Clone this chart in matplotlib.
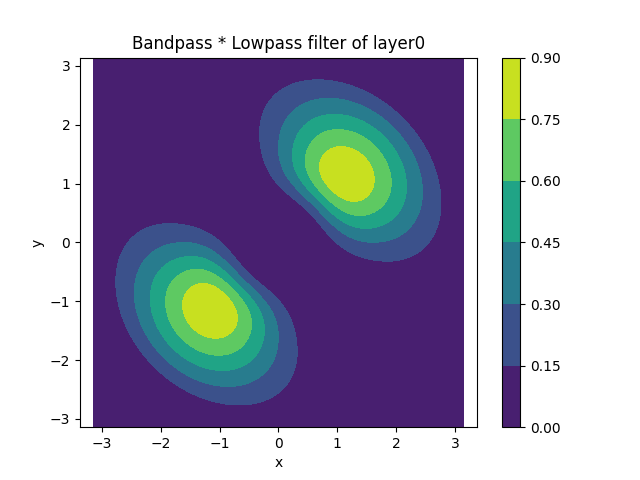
import numpy as np
import matplotlib
matplotlib.use('Agg')
import matplotlib.pyplot as plt

# 값은 그림에서 읽은 추정치
levels = [0.0, 0.15, 0.30, 0.45, 0.60, 0.75, 0.90]
blob_angle_deg = 45             # 덩어리 방향 (45도와 225도)
peak_value = 0.875              # 최대값
ring_radius = 1.6               # 띠통과 중심 반지름
sigma_inner = 0.42              # 안쪽 폭 (log 반지름)
sigma_outer = 0.83              # 바깥쪽 폭 (반지름)
angle_order = 3.1               # 방향 cos 차수
cutoff = 3.16                   # 저역통과 차단 반지름
cutoff_order = 18

n = 256
x = np.linspace(-np.pi, np.pi, n)
y = np.linspace(-np.pi, np.pi, n)
X, Y = np.meshgrid(x, y)
R = np.hypot(X, Y) + 1e-9
T = np.arctan2(Y, X)

# 띠통과
u = np.where(R < ring_radius,
             np.log(R / ring_radius) / sigma_inner,
             (R - ring_radius) / sigma_outer)
bandpass = np.exp(-0.5 * u**2)

# 방향
angular = np.abs(np.cos(T - np.deg2rad(blob_angle_deg)))**angle_order

# 저역통과
lowpass = np.exp(-(R / cutoff)**cutoff_order)

Z = peak_value * bandpass * angular * lowpass

fig = plt.figure(figsize=(6.4, 4.8), dpi=100)
ax = plt.axes()
cs = ax.contourf(X, Y, Z, levels=levels, cmap='viridis')
fig.colorbar(cs)
ax.set_title('Bandpass * Lowpass filter of layer0')
ax.set_xlabel('x')
ax.set_ylabel('y')
ax.axis('equal')
plt.savefig('out.png')
